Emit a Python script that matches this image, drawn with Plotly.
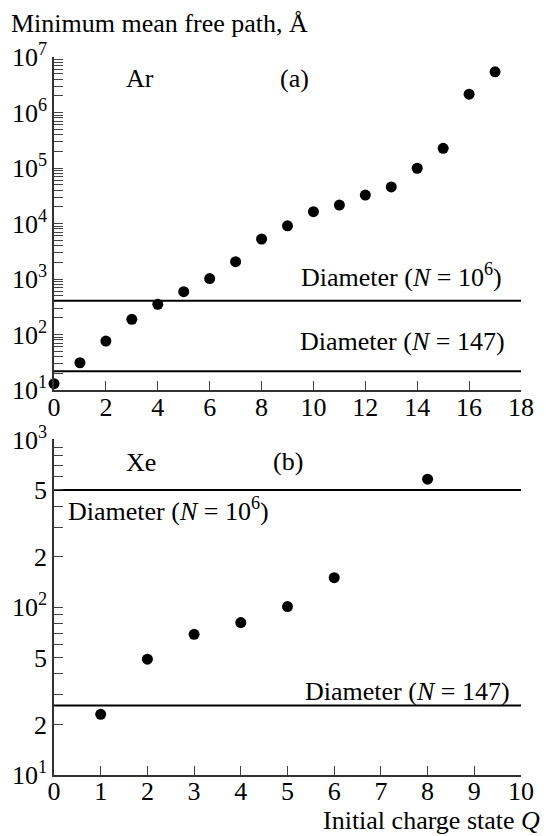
import plotly.graph_objects as go

# ---------------- data ----------------
ar_q = [0, 1, 2, 3, 4, 5, 6, 7, 8, 9, 10, 11, 12, 13, 14, 15, 16, 17]
ar_mfp = [13, 31, 76, 188, 350, 590, 1020, 2050, 5260, 9100, 16300, 21500,
          32500, 45700, 99000, 226000, 2140000, 5400000]
ar_diam_n1e6 = 407
ar_diam_n147 = 21.7

xe_q = [1, 2, 3, 4, 5, 6, 8]
xe_mfp = [23, 49, 69, 81, 101, 150, 580]
xe_diam_n1e6 = 500
xe_diam_n147 = 26

ar_x_ticks = [0, 2, 4, 6, 8, 10, 12, 14, 16, 18]
xe_x_ticks = [0, 1, 2, 3, 4, 5, 6, 7, 8, 9, 10]

# log tick values / labels
ar_y_vals, ar_y_text = [], []
for k in range(1, 7):
    for m in range(1, 10):
        ar_y_vals.append(m * 10 ** k)
        ar_y_text.append(f"10<sup>{k}</sup>" if m == 1 else "")
ar_y_vals.append(10 ** 7)
ar_y_text.append("10<sup>7</sup>")

xe_y_vals, xe_y_text = [], []
for k in range(1, 3):
    for m in range(1, 10):
        xe_y_vals.append(m * 10 ** k)
        if m == 1:
            xe_y_text.append(f"10<sup>{k}</sup>")
        elif m in (2, 5):
            xe_y_text.append(str(m))
        else:
            xe_y_text.append("")
xe_y_vals.append(1000)
xe_y_text.append("10<sup>3</sup>")

FONT = "Liberation Serif"
FS = 26

fig = go.Figure()

# panel (a)
fig.add_trace(go.Scatter(x=[0, 18], y=[ar_diam_n1e6] * 2, mode="lines",
                         line=dict(color="black", width=2), xaxis="x", yaxis="y",
                         showlegend=False, hoverinfo="skip"))
fig.add_trace(go.Scatter(x=[0, 18], y=[ar_diam_n147] * 2, mode="lines",
                         line=dict(color="black", width=2), xaxis="x", yaxis="y",
                         showlegend=False, hoverinfo="skip"))
fig.add_trace(go.Scatter(x=ar_q, y=ar_mfp, mode="markers",
                         marker=dict(color="black", size=11), xaxis="x", yaxis="y",
                         showlegend=False, cliponaxis=False))

# panel (b)
fig.add_trace(go.Scatter(x=[0, 10], y=[xe_diam_n1e6] * 2, mode="lines",
                         line=dict(color="black", width=2), xaxis="x2", yaxis="y2",
                         showlegend=False, hoverinfo="skip"))
fig.add_trace(go.Scatter(x=[0, 10], y=[xe_diam_n147] * 2, mode="lines",
                         line=dict(color="black", width=2), xaxis="x2", yaxis="y2",
                         showlegend=False, hoverinfo="skip"))
fig.add_trace(go.Scatter(x=xe_q, y=xe_mfp, mode="markers",
                         marker=dict(color="black", size=11), xaxis="x2", yaxis="y2",
                         showlegend=False, cliponaxis=False))

axis_common = dict(showline=True, linecolor="#333", linewidth=1.5, mirror=False,
                   ticks="inside", ticklen=9, tickwidth=1, tickcolor="#444",
                   showgrid=False, zeroline=False,
                   tickfont=dict(family=FONT, size=FS, color="black"))

fig.update_layout(
    width=546, height=836,
    margin=dict(l=53, r=13, t=57, b=61),
    paper_bgcolor="white", plot_bgcolor="white",
    font=dict(family=FONT, size=FS, color="black"),
    xaxis=dict(domain=[0, 1], range=[0, 18], tickmode="array", tickvals=ar_x_ticks,
               anchor="y", ticklabelstandoff=-7, **axis_common),
    yaxis=dict(domain=[0.5362, 1.0], type="log", range=[1, 7], tickmode="array",
               tickvals=ar_y_vals, ticktext=ar_y_text, anchor="x", **axis_common),
    xaxis2=dict(domain=[0, 1], range=[0, 10], tickmode="array", tickvals=xe_x_ticks,
                anchor="y2", ticklabelstandoff=-8, **axis_common),
    yaxis2=dict(domain=[0, 0.4673], type="log", range=[1, 3], tickmode="array",
                tickvals=xe_y_vals, ticktext=xe_y_text, anchor="x2", **axis_common),
)

ann = []
def add(text, x, y, xref, yref, xa="center", ya="middle"):
    ann.append(dict(text=text, x=x, y=y, xref=xref, yref=yref, xanchor=xa,
                    yanchor=ya, showarrow=False,
                    font=dict(family=FONT, size=FS, color="black")))

add("Minimum mean free path, Å", -0.0958, 1.0460, "paper", "paper", xa="left")
add("Initial charge state <i>Q</i>", 1.0458, -0.0640, "paper", "paper", xa="right")

add("Ar", 3.33, 6.62, "x", "y")
add("(a)", 9.26, 6.62, "x", "y")
add("Diameter (<i>N</i> = 10<sup>6</sup>)", 13.39, 3.07, "x", "y")
add("Diameter (<i>N</i> = 147)", 13.44, 1.87, "x", "y")

add("Xe", 1.86, 2.86, "x2", "y2")
add("(b)", 5.02, 2.87, "x2", "y2")
add("Diameter (<i>N</i> = 10<sup>6</sup>)", 2.45, 2.585, "x2", "y2")
add("Diameter (<i>N</i> = 147)", 7.56, 1.50, "x2", "y2")

fig.update_layout(annotations=ann)

fig.write_html("out.html",
               config={"displayModeBar": False},
               post_script="document.body.style.margin='0';"
                           "document.documentElement.style.overflow='hidden';")
